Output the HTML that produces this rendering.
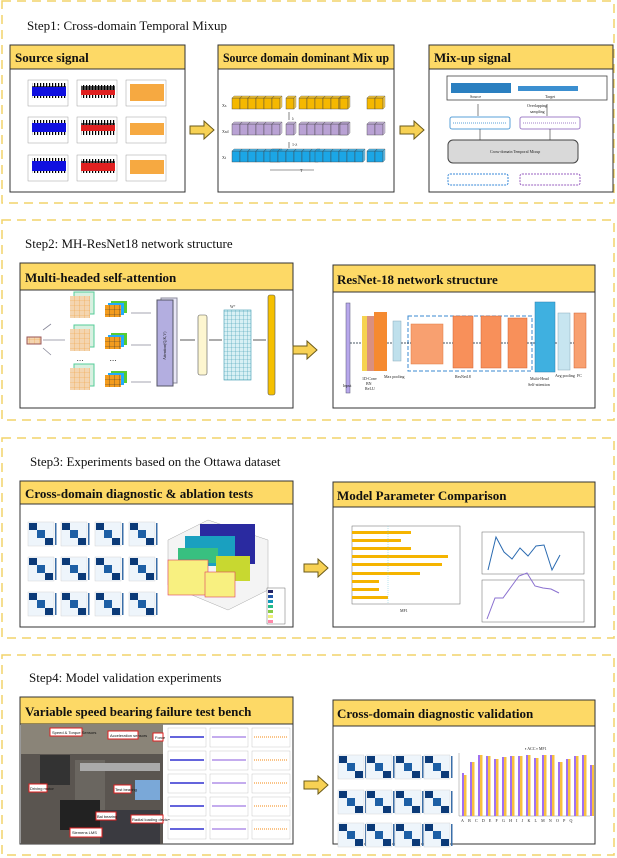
<!DOCTYPE html>
<html><head><meta charset="utf-8"><style>
html,body{margin:0;padding:0;background:#fff;}
svg{display:block;}
.st{font-family:"Liberation Serif",serif;font-size:13px;fill:#111;}
.hd{font-family:"Liberation Serif",serif;font-size:13px;font-weight:bold;fill:#111;}
.sm{font-family:"Liberation Serif",serif;font-size:4px;fill:#222;}
.lb{font-family:"Liberation Sans",sans-serif;font-size:4px;fill:#111;}
</style></head><body>
<svg width="617" height="858" viewBox="0 0 617 858" xmlns="http://www.w3.org/2000/svg">
<defs>
<pattern id="grid" width="4" height="4" patternUnits="userSpaceOnUse"><rect width="4" height="4" fill="#d8f0f4"/><path d="M4 0V4H0" fill="none" stroke="#3a9ab0" stroke-width="0.6"/></pattern>
<pattern id="ogrid" width="5" height="5" patternUnits="userSpaceOnUse"><rect width="5" height="5" fill="#f39c1e"/><path d="M5 0V5H0" fill="none" stroke="#333" stroke-width="0.6"/></pattern>
<pattern id="lgrid" width="5" height="5" patternUnits="userSpaceOnUse"><rect width="5" height="5" fill="#f4d5b0"/><path d="M5 0V5H0" fill="none" stroke="#f0a040" stroke-width="0.6"/></pattern>
<pattern id="noise" width="3" height="20" patternUnits="userSpaceOnUse"><rect x="0" y="2" width="1.2" height="16" fill="currentColor"/><rect x="1.5" y="6" width="1.2" height="8" fill="currentColor"/></pattern>
<g id="cm"><rect width="26" height="24" fill="#eef5fb" stroke="#ccc" stroke-width="0.4"/><rect x="1" y="1" width="8" height="7" fill="#0b3a78"/><rect x="9" y="8" width="8" height="8" fill="#1d5fa5"/><rect x="17" y="16" width="8" height="7" fill="#0b3a78"/><rect x="27" y="1" width="1.5" height="22" fill="#3a6ea8"/></g>
<g id="cube" ><rect width="8" height="11" fill="currentColor" stroke="#444" stroke-width="0.4"/><path d="M0 0l2-2h8l-2 2z" fill="currentColor" stroke="#444" stroke-width="0.4" opacity="0.8"/><path d="M8 0l2-2v11l-2 2z" fill="currentColor" stroke="#444" stroke-width="0.4" opacity="0.7"/></g>
<g id="row"><use href="#cube" x="0"/><use href="#cube" x="8"/><use href="#cube" x="16"/><use href="#cube" x="24"/><use href="#cube" x="32"/><use href="#cube" x="40"/></g>
<g id="arrow"><path d="M0 -4h14v-5l10 9l-10 9v-5h-14z" fill="#f7d154" stroke="#6b5a18" stroke-width="1"/></g>
<g id="sig"><rect width="40" height="26" fill="#fff" stroke="#888" stroke-width="0.4"/></g>
<g id="mini"><rect width="38" height="19" fill="#fff" stroke="#bbb" stroke-width="0.4"/></g>
</defs>

<g fill="none" stroke="#f2d36a" stroke-width="1.5" stroke-dasharray="9,6">
<rect x="2" y="1" width="612" height="202"/>
<rect x="2" y="220" width="612" height="200"/>
<rect x="2" y="438" width="612" height="200"/>
<rect x="2" y="655" width="612" height="200"/>
</g>

<text class="st" x="27" y="30">Step1: Cross-domain Temporal Mixup</text>
<text class="st" x="25" y="248">Step2: MH-ResNet18 network structure</text>
<text class="st" x="30" y="466">Step3: Experiments based on the Ottawa dataset</text>
<text class="st" x="29" y="682">Step4: Model validation experiments</text>

<g stroke="#333" stroke-width="1">
<rect x="10" y="45" width="175" height="147" fill="#fff"/><rect x="10" y="45" width="175" height="24" fill="#fdd966"/>
<rect x="218" y="45" width="176" height="147" fill="#fff"/><rect x="218" y="45" width="176" height="24" fill="#fdd966"/>
<rect x="429" y="45" width="184" height="147" fill="#fff"/><rect x="429" y="45" width="184" height="24" fill="#fdd966"/>
<rect x="20" y="263" width="273" height="145" fill="#fff"/><rect x="20" y="263" width="273" height="27" fill="#fdd966"/>
<rect x="333" y="265" width="262" height="143" fill="#fff"/><rect x="333" y="265" width="262" height="27" fill="#fdd966"/>
<rect x="20" y="481" width="273" height="146" fill="#fff"/><rect x="20" y="481" width="273" height="23" fill="#fdd966"/>
<rect x="333" y="482" width="262" height="145" fill="#fff"/><rect x="333" y="482" width="262" height="25" fill="#fdd966"/>
<rect x="20" y="697" width="273" height="147" fill="#fff"/><rect x="20" y="697" width="273" height="27" fill="#fdd966"/>
<rect x="333" y="700" width="262" height="144" fill="#fff"/><rect x="333" y="700" width="262" height="26" fill="#fdd966"/>
</g>
<text class="hd" x="15" y="62">Source signal</text>
<text class="hd" x="223" y="62" textLength="166" lengthAdjust="spacingAndGlyphs">Source domain dominant Mix up</text>
<text class="hd" x="434" y="62">Mix-up signal</text>
<text class="hd" x="25" y="282">Multi-headed self-attention</text>
<text class="hd" x="337" y="284">ResNet-18 network structure</text>
<text class="hd" x="25" y="498">Cross-domain diagnostic &amp; ablation tests</text>
<text class="hd" x="337" y="500">Model Parameter Comparison</text>
<text class="hd" x="25" y="716">Variable speed bearing failure test bench</text>
<text class="hd" x="337" y="718">Cross-domain diagnostic validation</text>

<use href="#arrow" x="190" y="130"/>
<use href="#arrow" x="400" y="130"/>
<use href="#arrow" x="293" y="350"/>
<use href="#arrow" x="304" y="568"/>
<use href="#arrow" x="304" y="785"/>

<g>
<g transform="translate(28,80)"><use href="#sig"/><rect x="4" y="3" width="34" height="18" fill="url(#noise)" style="color:#1010e0"/><rect x="4" y="7" width="34" height="9" fill="#1010e0"/></g>
<g transform="translate(77,80)"><use href="#sig"/><rect x="4" y="5" width="34" height="14" fill="url(#noise)" style="color:#e02020"/><rect x="4" y="10" width="34" height="5" fill="#e02020"/></g>
<g transform="translate(126,80)"><use href="#sig"/><rect x="4" y="4" width="34" height="17" fill="#f59a20" opacity="0.85"/></g>
<g transform="translate(28,117)"><use href="#sig"/><rect x="4" y="3" width="34" height="18" fill="url(#noise)" style="color:#1010e0"/><rect x="4" y="6" width="34" height="9" fill="#1010e0"/></g>
<g transform="translate(77,117)"><use href="#sig"/><rect x="4" y="3" width="34" height="17" fill="url(#noise)" style="color:#e02020"/><rect x="4" y="8" width="34" height="6" fill="#e02020"/></g>
<g transform="translate(126,117)"><use href="#sig"/><rect x="4" y="6" width="34" height="12" fill="#f59a20" opacity="0.85"/></g>
<g transform="translate(28,155)"><use href="#sig"/><rect x="4" y="3" width="34" height="18" fill="url(#noise)" style="color:#1010e0"/><rect x="4" y="6" width="34" height="10" fill="#1010e0"/></g>
<g transform="translate(77,155)"><use href="#sig"/><rect x="4" y="4" width="34" height="16" fill="url(#noise)" style="color:#e02020"/><rect x="4" y="8" width="34" height="8" fill="#e02020"/></g>
<g transform="translate(126,155)"><use href="#sig"/><rect x="4" y="5" width="34" height="14" fill="#f59a20" opacity="0.85"/></g>
</g>

<g style="color:#f5b800"><use href="#row" x="232" y="98"/><use href="#cube" x="286" y="98"/><use href="#row" x="299" y="98"/><use href="#cube" x="340" y="98"/><use href="#cube" x="367" y="98"/><use href="#cube" x="375" y="98"/></g>
<g style="color:#b9a2d4"><use href="#row" x="232" y="124"/><use href="#cube" x="286" y="124"/><use href="#row" x="299" y="124"/><use href="#cube" x="340" y="124"/><use href="#cube" x="367" y="124"/><use href="#cube" x="375" y="124"/></g>
<g style="color:#1ba6e6"><use href="#row" x="232" y="151"/><use href="#row" x="270" y="151"/><use href="#row" x="315" y="151"/><use href="#cube" x="367" y="151"/><use href="#cube" x="375" y="151"/></g>
<g class="sm"><text x="222" y="107">Xs</text><text x="222" y="133">Xsd</text><text x="222" y="159">Xt</text><text x="292" y="120">λ</text><text x="292" y="146">1-λ</text><text x="300" y="172">T</text></g>
<path d="M289 112v8M289 148v-6M270 170h44" stroke="#333" stroke-width="0.6"/>

<rect x="447" y="76" width="160" height="24" fill="#fff" stroke="#444" stroke-width="0.8"/>
<rect x="451" y="83" width="60" height="10" fill="#2a7fc0"/><rect x="518" y="86" width="60" height="5" fill="#3b8fd0"/>
<text class="sm" x="470" y="98">Source</text><text class="sm" x="545" y="98">Target</text>
<text class="sm" x="527" y="107">Overlapping</text><text class="sm" x="530" y="113">sampling</text>
<rect x="450" y="117" width="60" height="12" rx="2" fill="#fff" stroke="#5aa0d8"/>
<rect x="520" y="117" width="60" height="12" rx="2" fill="#fff" stroke="#a080c8"/>
<path d="M453 123h54" stroke="#5aa0d8" stroke-width="1" stroke-dasharray="1,1"/>
<path d="M523 123h54" stroke="#a080c8" stroke-width="1" stroke-dasharray="1,1"/>
<rect x="448" y="140" width="130" height="23" rx="5" fill="#d9d9d9" stroke="#444"/>
<text class="sm" x="490" y="153">Cross-domain Temporal Mixup</text>
<rect x="448" y="174" width="60" height="11" rx="2" fill="none" stroke="#3a8ad8" stroke-dasharray="2,1"/>
<rect x="520" y="174" width="60" height="11" rx="2" fill="none" stroke="#9a60c0" stroke-dasharray="2,1"/>
<path d="M480 129v11M550 129v11M478 104v12M547 104v12" stroke="#333" stroke-width="0.6"/>

<rect x="27" y="337" width="14" height="7" fill="url(#lgrid)" stroke="#955"/>
<g transform="translate(70,296)"><rect x="4" y="-4" width="20" height="22" fill="#d8f0e0" stroke="#5c9"/><rect width="20" height="22" fill="url(#lgrid)"/></g>
<g transform="translate(70,329)"><rect x="4" y="-4" width="20" height="22" fill="#d8f0e0" stroke="#5c9"/><rect width="20" height="22" fill="url(#lgrid)"/></g>
<g transform="translate(70,368)"><rect x="4" y="-4" width="20" height="22" fill="#d8f0e0" stroke="#5c9"/><rect width="20" height="22" fill="url(#lgrid)"/></g>
<g transform="translate(105,305)"><rect x="6" y="-4" width="16" height="12" fill="#5c3"/><rect x="3" y="-2" width="16" height="12" fill="#2af"/><rect width="16" height="12" fill="url(#ogrid)"/></g>
<g transform="translate(105,337)"><rect x="6" y="-4" width="16" height="12" fill="#5c3"/><rect x="3" y="-2" width="16" height="12" fill="#2af"/><rect width="16" height="12" fill="url(#ogrid)"/></g>
<g transform="translate(105,375)"><rect x="6" y="-4" width="16" height="12" fill="#5c3"/><rect x="3" y="-2" width="16" height="12" fill="#2af"/><rect width="16" height="12" fill="url(#ogrid)"/></g>
<text class="sm" x="77" y="362">• • •</text><text class="sm" x="110" y="362">• • •</text>
<path d="M43 330l8-6M43 340h22M43 348l8 7M131 313h20M131 345h20M131 382h20" stroke="#889" stroke-width="0.8"/>
<rect x="161" y="298" width="16" height="85" fill="#e8e6f6" stroke="#889"/>
<rect x="157" y="300" width="16" height="86" fill="#b3aee0" stroke="#556"/>
<text class="sm" transform="translate(166,360) rotate(-90)">Attention(Q,K,V)</text>
<rect x="198" y="315" width="9" height="60" rx="2" fill="#fdf6d0" stroke="#555" stroke-width="0.6"/>
<rect x="224" y="310" width="27" height="70" fill="url(#grid)" stroke="#3a9ab0" stroke-width="0.6"/>
<text class="sm" x="230" y="308" fill="#39c">W°</text>
<rect x="268" y="295" width="7" height="100" rx="2" fill="#f5c000" stroke="#555" stroke-width="0.6"/>
<path d="M180 340h15M209 340h13M253 340h13" stroke="#222" stroke-width="0.8"/>

<rect x="346" y="303" width="4" height="90" fill="#b8a8ec" stroke="#557" stroke-width="0.5"/>
<rect x="362" y="316" width="6" height="55" fill="#f6d350"/><rect x="367" y="316" width="8" height="55" fill="#d99080"/><rect x="374" y="312" width="13" height="59" fill="#f58a30"/>
<rect x="393" y="321" width="8" height="40" fill="#bfe0ec" stroke="#8ab" stroke-width="0.5"/>
<rect x="408" y="316" width="124" height="55" fill="none" stroke="#3a8ad0" stroke-dasharray="4,2"/>
<rect x="411" y="324" width="32" height="40" fill="#f8a070" stroke="#e07a40" stroke-width="0.5"/>
<rect x="453" y="316" width="20" height="52" fill="#f8905a" stroke="#d06030" stroke-width="0.5"/>
<rect x="481" y="316" width="20" height="52" fill="#f8905a" stroke="#d06030" stroke-width="0.5"/>
<rect x="508" y="318" width="19" height="50" fill="#f8905a" stroke="#d06030" stroke-width="0.5"/>
<rect x="535" y="302" width="20" height="70" fill="#3fb0e0" stroke="#2a7fb0" stroke-width="0.5"/>
<rect x="558" y="313" width="12" height="57" fill="#c7e5f0" stroke="#8ab" stroke-width="0.5"/>
<rect x="574" y="313" width="12" height="55" fill="#f8a070" stroke="#d06030" stroke-width="0.5"/>
<path d="M350 343h12M387 343h6M401 343h10M443 343h10M473 343h8M501 343h7M527 343h8M555 343h3M570 343h4" stroke="#123" stroke-width="0.8" stroke-dasharray="2,1"/>
<g class="sm"><text x="343" y="387">Input</text><text x="362" y="380">1D-Conv</text><text x="366" y="385">BN</text><text x="365" y="390">ReLU</text><text x="384" y="378">Max pooling</text><text x="455" y="378">ResNet18</text><text x="530" y="380">Multi-Head</text><text x="528" y="386">Self-attention</text><text x="555" y="377">Avg pooling</text><text x="577" y="377">FC</text></g>

<g>
<use href="#cm" x="28" y="522"/><use href="#cm" x="61" y="522"/><use href="#cm" x="95" y="522"/><use href="#cm" x="129" y="522"/>
<use href="#cm" x="28" y="557"/><use href="#cm" x="61" y="557"/><use href="#cm" x="95" y="557"/><use href="#cm" x="129" y="557"/>
<use href="#cm" x="28" y="592"/><use href="#cm" x="61" y="592"/><use href="#cm" x="95" y="592"/><use href="#cm" x="129" y="592"/>
</g>
<path d="M168 540l40-20 60 20v50l-40 20-60-25z" fill="#f4f4f4" stroke="#aaa" stroke-width="0.5"/>
<rect x="200" y="524" width="55" height="40" fill="#2a2aa0"/>
<rect x="185" y="536" width="50" height="30" fill="#1aa0c0"/>
<rect x="178" y="548" width="40" height="15" fill="#38c080"/>
<rect x="216" y="556" width="34" height="25" fill="#c8d830"/>
<rect x="168" y="560" width="40" height="35" fill="#f8f080" stroke="#e04060" stroke-width="0.6"/>
<rect x="205" y="572" width="30" height="25" fill="#f8f080" stroke="#e04060" stroke-width="0.6"/>
<rect x="267" y="588" width="18" height="36" fill="#fff" stroke="#444" stroke-width="0.4"/>
<rect x="268" y="590" width="5" height="3" fill="#226"/><rect x="268" y="595" width="5" height="3" fill="#25a"/><rect x="268" y="600" width="5" height="3" fill="#19b"/><rect x="268" y="605" width="5" height="3" fill="#2b8"/><rect x="268" y="610" width="5" height="3" fill="#8c4"/><rect x="268" y="615" width="5" height="3" fill="#ee7"/><rect x="268" y="620" width="5" height="3" fill="#f8a"/>

<rect x="352" y="526" width="108" height="78" fill="#fff" stroke="#666" stroke-width="0.5"/>
<g fill="#f5b400">
<rect x="352" y="531" width="59" height="3"/><rect x="352" y="539" width="49" height="3"/><rect x="352" y="547" width="59" height="3"/><rect x="352" y="555" width="96" height="3"/><rect x="352" y="563" width="90" height="3"/><rect x="352" y="572" width="68" height="3"/><rect x="352" y="580" width="27" height="3"/><rect x="352" y="588" width="27" height="3"/><rect x="352" y="596" width="36" height="3"/>
</g>
<line x1="388" y1="526" x2="388" y2="604" stroke="#7cd" stroke-width="0.5" stroke-dasharray="1,1"/>
<text class="sm" x="400" y="612">MF1</text>
<rect x="482" y="532" width="102" height="42" fill="#fff" stroke="#666" stroke-width="0.5"/>
<polyline points="488,570 496,537 504,552 512,559 520,548 528,556 536,546 544,545 552,570 560,555" fill="none" stroke="#2a6ab0" stroke-width="1"/>
<rect x="482" y="580" width="102" height="42" fill="#fff" stroke="#666" stroke-width="0.5"/>
<polyline points="487,619 495,598 503,598 511,587 519,576 527,573 535,586 543,588 551,589 559,593" fill="none" stroke="#8a70d0" stroke-width="1"/>

<rect x="21" y="724" width="142" height="120" fill="#5a5550"/>
<rect x="21" y="724" width="142" height="30" fill="#8a8478"/>
<rect x="40" y="755" width="30" height="30" fill="#333"/>
<rect x="75" y="760" width="30" height="50" fill="#6a6660"/>
<rect x="60" y="800" width="40" height="30" fill="#222"/>
<rect x="100" y="810" width="60" height="34" fill="#3a3a40"/>
<rect x="80" y="763" width="80" height="8" fill="#aaa"/>
<rect x="135" y="780" width="25" height="20" fill="#7aa8d8"/>
<g fill="#fff" stroke="#e02020" stroke-width="1">
<rect x="50" y="728" width="32" height="8"/><rect x="108" y="731" width="30" height="8"/><rect x="153" y="733" width="10" height="8"/>
<rect x="29" y="784" width="18" height="8"/><rect x="114" y="785" width="17" height="8"/><rect x="96" y="812" width="20" height="8"/><rect x="131" y="815" width="32" height="8"/><rect x="70" y="828" width="32" height="9"/>
</g>
<g class="lb" font-size="3"><text x="52" y="734">Speed &amp; Torque Sensors</text><text x="110" y="737">Acceleration sensors</text><text x="155" y="739">Force</text><text x="30" y="790">Driving motor</text><text x="115" y="791">Test bearing</text><text x="97" y="818">Bal bearing</text><text x="132" y="821">Radial loading device</text><text x="72" y="834">Siemens LMS</text></g>
<g>
<use href="#mini" x="168" y="728"/><use href="#mini" x="210" y="728"/><use href="#mini" x="252" y="728"/>
<use href="#mini" x="168" y="751"/><use href="#mini" x="210" y="751"/><use href="#mini" x="252" y="751"/>
<use href="#mini" x="168" y="774"/><use href="#mini" x="210" y="774"/><use href="#mini" x="252" y="774"/>
<use href="#mini" x="168" y="797"/><use href="#mini" x="210" y="797"/><use href="#mini" x="252" y="797"/>
<use href="#mini" x="168" y="820"/><use href="#mini" x="210" y="820"/><use href="#mini" x="252" y="820"/>
</g>
<g stroke-width="1.5">
<path d="M170 737h34M170 760h34M170 783h34M170 806h34M170 829h34" stroke="#3030d0"/>
<path d="M212 737h34M212 760h34M212 783h34M212 806h34M212 829h34" stroke="#b090e8"/>
<path d="M254 737h34M254 760h34M254 783h34M254 806h34M254 829h34" stroke="#f8b060" stroke-dasharray="1,1"/>
</g>

<g>
<use href="#cm" x="338" y="755"/><use href="#cm" x="366" y="755"/><use href="#cm" x="395" y="755"/><use href="#cm" x="424" y="755"/>
<use href="#cm" x="338" y="790"/><use href="#cm" x="366" y="790"/><use href="#cm" x="395" y="790"/><use href="#cm" x="424" y="790"/>
<use href="#cm" x="338" y="823"/><use href="#cm" x="366" y="823"/><use href="#cm" x="395" y="823"/><use href="#cm" x="424" y="823"/>
</g>
<line x1="459" y1="753" x2="459" y2="816" stroke="#888" stroke-width="0.5"/>
<line x1="459" y1="816" x2="590" y2="816" stroke="#888" stroke-width="0.5"/>
<g>
<rect x="462" y="773" width="2" height="43" fill="#a070f0"/><rect x="464" y="775" width="2.5" height="41" fill="#f8c040"/>
<rect x="470" y="762" width="2" height="54" fill="#a070f0"/><rect x="472" y="762" width="2.5" height="54" fill="#f8c040"/>
<rect x="478" y="755" width="2" height="61" fill="#a070f0"/><rect x="480" y="755" width="2.5" height="61" fill="#f8c040"/>
<rect x="486" y="756" width="2" height="60" fill="#a070f0"/><rect x="488" y="756" width="2.5" height="60" fill="#f8c040"/>
<rect x="494" y="759" width="2" height="57" fill="#a070f0"/><rect x="496" y="759" width="2.5" height="57" fill="#f8c040"/>
<rect x="502" y="757" width="2" height="59" fill="#a070f0"/><rect x="504" y="757" width="2.5" height="59" fill="#f8c040"/>
<rect x="510" y="756" width="2" height="60" fill="#a070f0"/><rect x="512" y="756" width="2.5" height="60" fill="#f8c040"/>
<rect x="518" y="756" width="2" height="60" fill="#a070f0"/><rect x="520" y="756" width="2.5" height="60" fill="#f8c040"/>
<rect x="526" y="755" width="2" height="61" fill="#a070f0"/><rect x="528" y="755" width="2.5" height="61" fill="#f8c040"/>
<rect x="534" y="758" width="2" height="58" fill="#a070f0"/><rect x="536" y="758" width="2.5" height="58" fill="#f8c040"/>
<rect x="542" y="755" width="2" height="61" fill="#a070f0"/><rect x="544" y="755" width="2.5" height="61" fill="#f8c040"/>
<rect x="550" y="755" width="2" height="61" fill="#a070f0"/><rect x="552" y="755" width="2.5" height="61" fill="#f8c040"/>
<rect x="558" y="762" width="2" height="54" fill="#a070f0"/><rect x="560" y="762" width="2.5" height="54" fill="#f8c040"/>
<rect x="566" y="759" width="2" height="57" fill="#a070f0"/><rect x="568" y="759" width="2.5" height="57" fill="#f8c040"/>
<rect x="574" y="756" width="2" height="60" fill="#a070f0"/><rect x="576" y="756" width="2.5" height="60" fill="#f8c040"/>
<rect x="582" y="755" width="2" height="61" fill="#a070f0"/><rect x="584" y="755" width="2.5" height="61" fill="#f8c040"/>
<rect x="590" y="765" width="2" height="51" fill="#a070f0"/><rect x="592" y="765" width="2" height="51" fill="#f8c040"/>
</g>
<text class="sm" x="525" y="750">▪ ACC ▪ MF1</text>
<text class="sm" x="461" y="822" letter-spacing="4.2">ABCDEFGHIJKLMNOPQ</text>
</svg>
</body></html>
